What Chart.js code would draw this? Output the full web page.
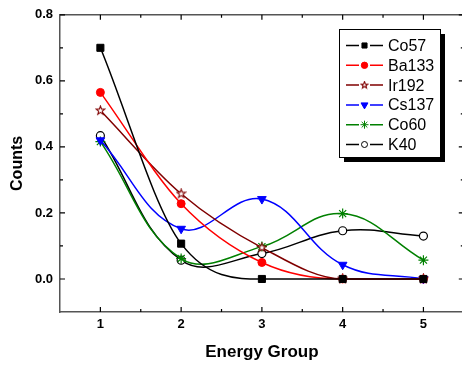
<!DOCTYPE html>
<html>
<head>
<meta charset="utf-8">
<script src="https://cdn.jsdelivr.net/npm/chart.js@4.4.1/dist/chart.umd.min.js"></script>
<style>
  html, body { margin: 0; padding: 0; background: #fff; overflow: hidden; width: 462px; height: 367px; }
  canvas { display: block; }
</style>
</head>
<body>
<canvas id="myChart" width="470" height="367"></canvas>
<script>
// energy groups on the x axis
var energyGroups = [1, 2, 3, 4, 5];

// counts per source
var co57  = [0.700, 0.107, 0.000, 0.000, 0.000];
var ba133 = [0.565, 0.228, 0.050, 0.000, 0.000];
var ir192 = [0.510, 0.258, 0.095, 0.000, 0.000];
var cs137 = [0.420, 0.152, 0.242, 0.043, 0.000];
var co60  = [0.416, 0.062, 0.098, 0.198, 0.057];
var k40   = [0.434, 0.057, 0.077, 0.146, 0.130];

var xTicks = [1, 2, 3, 4, 5];
var yTicks = [0.0, 0.2, 0.4, 0.6, 0.8];
var xMinor = [1.5, 2.5, 3.5, 4.5];
var yMinor = [0.1, 0.3, 0.5, 0.7];

function pts(arr) {
    return arr.map(function (v, i) { return { x: energyGroups[i], y: v }; });
}

// open five point star marker
function starImage(size, color) {
    var c = document.createElement('canvas');
    c.width = size; c.height = size;
    var g = c.getContext('2d');
    var cx = size / 2, cy = size / 2, ro = size / 2 - 1, ri = ro * 0.42;
    g.beginPath();
    for (var i = 0; i < 10; i++) {
        var r = i % 2 === 0 ? ro : ri;
        var a = -Math.PI / 2 + i * Math.PI / 5;
        var px = cx + r * Math.cos(a), py = cy + r * Math.sin(a);
        if (i === 0) g.moveTo(px, py); else g.lineTo(px, py);
    }
    g.closePath();
    g.fillStyle = '#fff';
    g.fill();
    g.strokeStyle = color;
    g.lineWidth = 1.1;
    g.stroke();
    return c;
}
var starBig = starImage(11, '#800000');
var starSmall = starImage(9, '#800000');

function series(label, data, color, style, radius, extra) {
    var ds = {
        label: label,
        data: pts(data),
        borderColor: color,
        backgroundColor: color,
        borderWidth: 1.5,
        tension: 0.4,
        pointStyle: style,
        pointRadius: radius,
        pointHoverRadius: radius,
        pointBorderColor: color,
        pointBackgroundColor: color,
        pointBorderWidth: 1
    };
    for (var k in extra) ds[k] = extra[k];
    return ds;
}

var frame = {
    id: 'frame',
    afterDraw: function (chart) {
        var ctx = chart.ctx, a = chart.chartArea;
        var xs = chart.scales.x, ys = chart.scales.y;
        ctx.save();
        ctx.strokeStyle = '#555';
        ctx.lineWidth = 1.5;
        ctx.beginPath();
        ctx.moveTo(a.left, a.top); ctx.lineTo(a.right, a.top);
        ctx.moveTo(a.right, a.top); ctx.lineTo(a.right, a.bottom);
        ctx.stroke();

        ctx.strokeStyle = '#000';
        ctx.lineWidth = 1.2;
        ctx.beginPath();
        function xt(v, len) {
            var p = xs.getPixelForValue(v);
            ctx.moveTo(p, a.bottom); ctx.lineTo(p, a.bottom - len);
            ctx.moveTo(p, a.top); ctx.lineTo(p, a.top + len);
        }
        function yt(v, len) {
            var p = ys.getPixelForValue(v);
            ctx.moveTo(a.left, p); ctx.lineTo(a.left + len, p);
            ctx.moveTo(a.right, p); ctx.lineTo(a.right - len, p);
        }
        xTicks.forEach(function (v) { xt(v, 5); });
        xMinor.forEach(function (v) { xt(v, 3); });
        yTicks.forEach(function (v) { yt(v, 5); });
        yMinor.forEach(function (v) { yt(v, 3); });
        ctx.stroke();

        // legend box
        var bx = 339, by = 29, bw = 101, bh = 128;
        ctx.fillStyle = '#000';
        ctx.fillRect(bx + 5, by + 5, bw, bh);
        ctx.fillStyle = '#fff';
        ctx.fillRect(bx, by, bw, bh);
        ctx.strokeStyle = '#000';
        ctx.lineWidth = 1;
        ctx.strokeRect(bx + 0.5, by + 0.5, bw, bh);

        ctx.font = '16px "Liberation Sans", Arial, sans-serif';
        ctx.textBaseline = 'middle';
        ctx.textAlign = 'left';
        chart.data.datasets.forEach(function (ds, i) {
            var y = 45.5 + i * 19.8;
            ctx.strokeStyle = ds.borderColor;
            ctx.lineWidth = 1.5;
            ctx.beginPath();
            ctx.moveTo(346, y); ctx.lineTo(359, y);
            ctx.moveTo(370, y); ctx.lineTo(383, y);
            ctx.stroke();
            var style = ds.pointStyle === starBig ? starSmall : ds.pointStyle;
            ctx.fillStyle = ds.pointBackgroundColor;
            ctx.strokeStyle = ds.pointBorderColor;
            ctx.lineWidth = 1;
            Chart.helpers.drawPoint(ctx, {
                pointStyle: style,
                radius: ds.legendRadius,
                rotation: ds.pointRotation || 0,
                borderWidth: 1
            }, 364.5, y);
            ctx.fillStyle = '#000';
            ctx.fillText(ds.label, 388, y + 1);
        });
        ctx.restore();
    }
};

var ctx = document.getElementById('myChart').getContext('2d');
var myChart = new Chart(ctx, {
    type: 'line',
    data: {
        datasets: [
            series('Co57', co57, '#000000', 'rect', 5, { legendRadius: 3.6, cubicInterpolationMode: 'monotone' }),
            series('Ba133', ba133, '#ff0000', 'circle', 4, { legendRadius: 3.2, cubicInterpolationMode: 'monotone' }),
            series('Ir192', ir192, '#800000', starBig, 5, { legendRadius: 4, cubicInterpolationMode: 'monotone' }),
            series('Cs137', cs137, '#0000ff', 'triangle', 5, { pointRotation: 180, legendRadius: 4 }),
            series('Co60', co60, '#008000', 'star', 5, { pointBorderWidth: 1.2, legendRadius: 4 }),
            series('K40', k40, '#000000', 'circle', 4, { pointBackgroundColor: '#ffffff', pointBorderWidth: 1.2, legendRadius: 3 })
        ]
    },
    options: {
        responsive: false,
        animation: false,
        devicePixelRatio: 1,
        layout: {
            padding: { left: 0, top: 12, right: 5.5, bottom: 0 }
        },
        plugins: {
            legend: { display: false },
            tooltip: { enabled: false }
        },
        scales: {
            x: {
                type: 'linear',
                min: 0.5,
                max: 5.5,
                afterBuildTicks: function (s) {
                    s.ticks = xTicks.map(function (v) { return { value: v }; });
                },
                afterFit: function (s) { s.height = 55; },
                grid: { display: false, drawTicks: false },
                border: { color: '#555', width: 1.5 },
                ticks: {
                    color: '#000',
                    padding: 5,
                    font: { family: '"Liberation Sans", Arial, sans-serif', size: 13, weight: 'bold' },
                    callback: function (v) { return v; }
                },
                title: {
                    display: true,
                    text: 'Energy Group',
                    color: '#000',
                    padding: { top: 0, bottom: 4 },
                    font: { family: '"Liberation Sans", Arial, sans-serif', size: 17, weight: 'bold' }
                }
            },
            y: {
                min: -0.1,
                max: 0.8,
                afterBuildTicks: function (s) {
                    s.ticks = yTicks.map(function (v) { return { value: v }; });
                },
                afterFit: function (s) { s.width = 60; },
                grid: { display: false, drawTicks: false },
                border: { color: '#555', width: 1.5 },
                ticks: {
                    color: '#000',
                    padding: 7,
                    font: { family: '"Liberation Sans", Arial, sans-serif', size: 13, weight: 'bold' },
                    callback: function (v) { return v.toFixed(1); }
                },
                title: {
                    display: true,
                    text: 'Counts',
                    color: '#000',
                    padding: { top: 7.5, bottom: 0 },
                    font: { family: '"Liberation Sans", Arial, sans-serif', size: 16, weight: 'bold' }
                }
            }
        }
    },
    plugins: [frame]
});
</script>
</body>
</html>
